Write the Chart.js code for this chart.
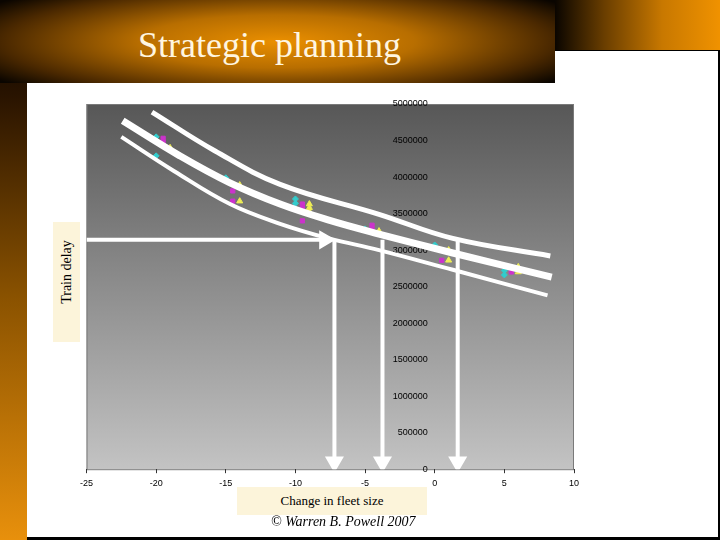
<!DOCTYPE html>
<html>
<head>
<meta charset="utf-8">
<title>Strategic planning</title>
<script src="https://cdn.jsdelivr.net/npm/chart.js@4"></script>
<style>
  body { margin: 0; background: #000; }
  #slide { position: relative; width: 720px; height: 540px; overflow: hidden; background: #000;
    font-family: "Liberation Serif", "Times New Roman", serif; }
  #leftStrip { position: absolute; left: 0; top: 0; width: 27px; height: 540px;
    background: linear-gradient(to bottom, #000 0%, #2a1400 18%, #8a5200 55%, #e8900c 100%); }
  #titleBand { position: absolute; left: 0; top: 0; width: 555px; height: 83px;
    background: radial-gradient(ellipse 62% 80% at 50% 50%, #ea8f00 0%, #b86e00 40%, #4a2800 80%, #0a0500 100%); }
  #topRight { position: absolute; left: 555px; top: 0; width: 165px; height: 50px;
    background: linear-gradient(to right, #0a0500 0%, #6a3e00 30%, #c87800 65%, #f09200 100%); }
  #page { position: absolute; left: 27px; top: 83px; width: 691px; height: 454px; background: #fff; }
  #pageTop { position: absolute; left: 555px; top: 51px; width: 163px; height: 33px; background: #fff; }
  #title { position: absolute; left: 138px; top: 24px; font-size: 36px; color: #fff6e0; white-space: nowrap; }
  canvas { position: absolute; left: 75px; top: 93px; }
  #yTitle { position: absolute; left: 53px; top: 222px; width: 27px; height: 120px; background: #fcf4da; }
  #yTitle span { position: absolute; left: 14px; top: 50px; transform: translate(-50%, -50%) rotate(-90deg);
    font-size: 14px; white-space: nowrap; color: #000; }
  #xTitle { position: absolute; left: 237px; top: 487px; width: 190px; height: 28px; background: #fcf4da;
    font-size: 13px; text-align: center; line-height: 28px; color: #000; }
  #credit { position: absolute; left: 271px; top: 514px; font-size: 14px; font-style: italic; color: #000; white-space: nowrap; }
</style>
</head>
<body>
<div id="slide">
  <div id="leftStrip"></div>
  <div id="titleBand"></div>
  <div id="topRight"></div>
  <div id="page"></div>
  <div id="pageTop"></div>
  <div id="title">Strategic planning</div>
  <canvas id="myChart" width="515" height="403"></canvas>
  <div id="yTitle"><span>Train delay</span></div>
  <div id="xTitle">Change in fleet size</div>
  <div id="credit">© Warren B. Powell 2007</div>
</div>
<script>
const xTickValues = [-25, -20, -15, -10, -5, 0, 5, 10];
const yTickValues = [0, 500000, 1000000, 1500000, 2000000, 2500000, 3000000, 3500000, 4000000, 4500000, 5000000];

// simulated points, three runs per fleet change
const cyanX = [-20, -20, -15, -10, -10, -5, 0, 5, 5];
const cyanY = [4550000, 4290000, 3990000, 3700000, 3640000, 3290000, 3070000, 2720000, 2660000];
const magentaX = [-19.5, -19.5, -14.5, -14.5, -9.5, -9.5, -9.5, -4.5, -4.5, 0.5, 5.5];
const magentaY = [4530000, 4480000, 3810000, 3670000, 3630000, 3570000, 3400000, 3340000, 3280000, 2860000, 2700000];
const yellowX = [-19, -14, -14, -9, -9, -9, -4, 1, 1, 6, 6];
const yellowY = [4400000, 3890000, 3670000, 3630000, 3580000, 3530000, 3260000, 3000000, 2860000, 2770000, 2700000];

// hand drawn band (upper, middle, lower)
const upperX = [-20.3, -15.8, -11.1, -4.0, 1.3, 8.3];
const upperY = [4890000, 4360000, 3900000, 3490000, 3160000, 2920000];
const midX = [-22.4, -18.3, -14.7, -11.1, -7.6, -4.0, 1.3, 8.4];
const midY = [4770000, 4290000, 3920000, 3630000, 3410000, 3220000, 2960000, 2630000];
const lowX = [-22.5, -18.7, -14.7, -11.1, -7.6, -4.0, 1.3, 8.1];
const lowY = [4550000, 4080000, 3630000, 3360000, 3160000, 3000000, 2730000, 2380000];

// arrows
const arrowLevel = 3140000;
const arrowStartX = -25;
const arrowTipX = -7.9;
const dropX = [-7.2, -3.75, 1.65];
const dropTipY = 100000;

const pts = (xs, ys) => xs.map((x, i) => ({ x: x, y: ys[i] }));

const curve = (xs, ys, w) => ({
  data: pts(xs, ys),
  showLine: true,
  borderColor: "#fff",
  borderWidth: w,
  pointRadius: 0,
  tension: 0.4,
});

const dropArrows = dropX.map((x) => ({
  data: [{ x: x, y: arrowLevel }, { x: x, y: dropTipY }],
  showLine: true,
  borderColor: "#fff",
  borderWidth: 4,
  pointRadius: [0, 7],
  pointStyle: "triangle",
  rotation: 180,
  pointBackgroundColor: "#fff",
  pointBorderColor: "#fff",
}));

const plotBackground = {
  id: "plotBackground",
  beforeDraw(chart) {
    const { ctx, chartArea: a } = chart;
    const g = ctx.createLinearGradient(0, a.top, 0, a.bottom);
    g.addColorStop(0, "#575757");
    g.addColorStop(1, "#c3c3c3");
    ctx.save();
    ctx.fillStyle = g;
    ctx.fillRect(a.left, a.top, a.right - a.left, a.bottom - a.top);
    ctx.strokeStyle = "#7a7a7a";
    ctx.lineWidth = 1;
    ctx.strokeRect(a.left + 0.5, a.top + 0.5, a.right - a.left - 1, a.bottom - a.top);
    ctx.restore();
  },
};

new Chart("myChart", {
  type: "scatter",
  data: {
    datasets: [
      {
        data: [{ x: arrowStartX, y: arrowLevel }, { x: arrowTipX, y: arrowLevel }],
        showLine: true,
        borderColor: "#fff",
        borderWidth: 4,
        pointRadius: [0, 7],
        pointStyle: "triangle",
        rotation: 90,
        pointBackgroundColor: "#fff",
        pointBorderColor: "#fff",
      },
      ...dropArrows,
      curve(upperX, upperY, 5),
      curve(midX, midY, 7),
      curve(lowX, lowY, 4),
      {
        data: pts(cyanX, cyanY),
        pointStyle: "rectRot",
        pointRadius: 3,
        backgroundColor: "#33cccc",
        borderColor: "#33cccc",
      },
      {
        data: pts(magentaX, magentaY),
        pointStyle: "rect",
        pointRadius: 3,
        backgroundColor: "#cc33cc",
        borderColor: "#cc33cc",
      },
      {
        data: pts(yellowX, yellowY),
        pointStyle: "triangle",
        pointRadius: 3.5,
        backgroundColor: "#eeee55",
        borderColor: "#eeee55",
      },
    ],
  },
  options: {
    responsive: false,
    animation: false,
    layout: { padding: { left: 0, right: 16, top: 6, bottom: 2 } },
    plugins: {
      legend: { display: false },
      tooltip: { enabled: false },
    },
    scales: {
      x: {
        type: "linear",
        min: -25,
        max: 10,
        afterBuildTicks: (axis) => { axis.ticks = xTickValues.map((v) => ({ value: v })); },
        ticks: { font: { family: "Liberation Sans, Arial", size: 9 }, color: "#000", padding: 5 },
        grid: { drawOnChartArea: false, tickLength: 4, color: "#333" },
        border: { display: false },
      },
      y: {
        type: "linear",
        min: 0,
        max: 5000000,
        position: { x: -0.5 },
        afterBuildTicks: (axis) => { axis.ticks = yTickValues.map((v) => ({ value: v })); },
        ticks: {
          font: { family: "Liberation Sans, Arial", size: 9 },
          color: "#000",
          callback: (v) => String(v),
        },
        grid: { display: false },
        border: { display: false },
      },
    },
  },
  plugins: [plotBackground],
});
</script>
</body>
</html>
